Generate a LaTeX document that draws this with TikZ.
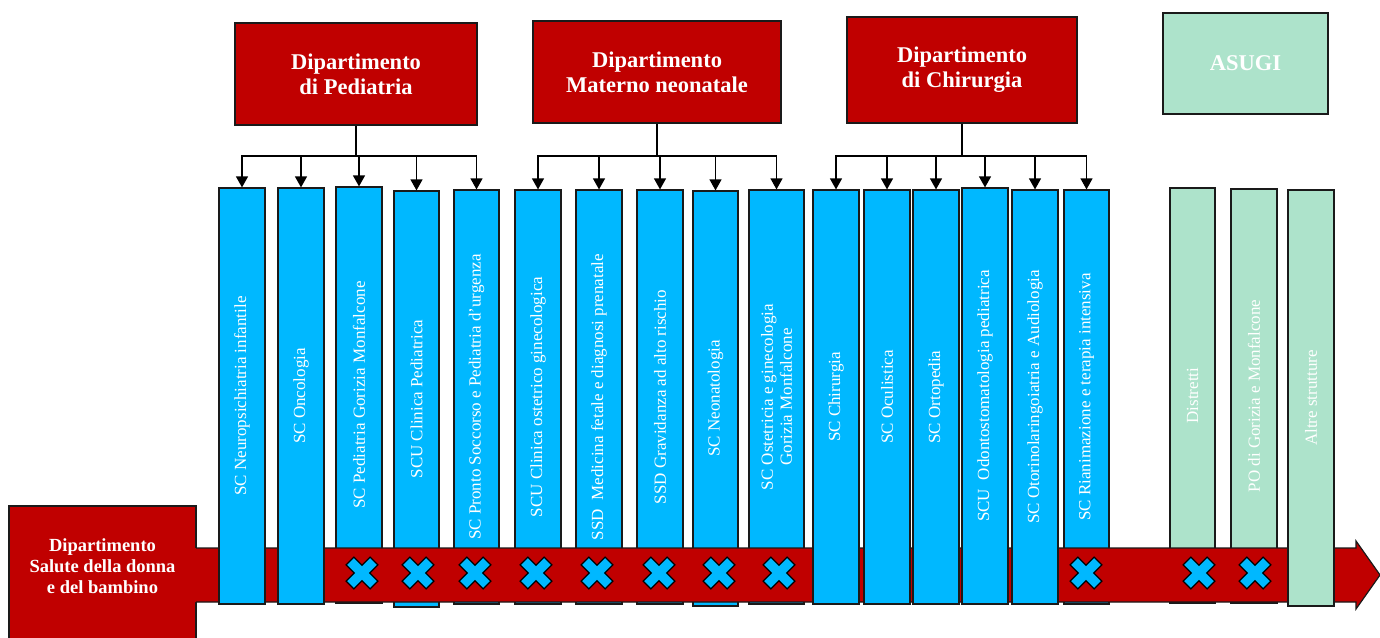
\documentclass[tikz,border=0pt]{standalone}
\usepackage{fontspec}
\setmainfont{Liberation Serif}
\usetikzlibrary{arrows.meta}
\definecolor{dred}{HTML}{C00000}
\definecolor{cblue}{HTML}{00B8FF}
\definecolor{cgreen}{HTML}{ADE3CB}
\definecolor{edge}{HTML}{1A1A1A}
\tikzset{
  dept/.style={draw=edge, line width=1.2pt, fill=dred, text=white, font=\fontsize{22.5}{25}\selectfont\bfseries, align=center, inner sep=0pt},
  colbox/.style={draw=edge, line width=1.2pt, fill=cblue, text=white, font=\fontsize{17}{19}\selectfont, rotate=90, inner sep=0pt, align=center},
  gcolbox/.style={colbox, fill=cgreen},
  arr/.style={draw=black, line width=1.2pt, -{Triangle[width=12pt,length=11pt]}},
  trunk/.style={draw=black, line width=2pt},
  xfill/.style={draw=black, line width=1.2pt, fill=cblue},
  xmark/.pic={\draw[xfill] (-5.5,17)--(5.5,17)--(5.5,5.5)--(17,5.5)--(17,-5.5)--(5.5,-5.5)--(5.5,-17)--(-5.5,-17)--(-5.5,-5.5)--(-17,-5.5)--(-17,5.5)--(-5.5,5.5)--cycle;}
}
\begin{document}
\begin{tikzpicture}[x=1pt,y=-1pt]
\useasboundingbox (0,0) rectangle (1380,637);
\clip (0,0) rectangle (1380,637);
\fill[white] (0,0) rectangle (1380,637);

% columns under the band
\node[colbox, minimum width=416pt, minimum height=46pt] (c3) at (359,395) {SC Pediatria Gorizia Monfalcone};
\node[colbox, minimum width=416pt, minimum height=45pt] (c4) at (416.5,399) {SCU Clinica Pediatrica};
\node[colbox, minimum width=414pt, minimum height=45pt] (c5) at (476.5,397) {SC Pronto Soccorso e Pediatria d’urgenza};
\node[colbox, minimum width=414pt, minimum height=46pt] (c6) at (538,397) {SCU Clinica ostetrico ginecologica};
\node[colbox, minimum width=414pt, minimum height=46pt] (c7) at (599,397) {SSD\ \ Medicina fetale e diagnosi prenatale};
\node[colbox, minimum width=414pt, minimum height=46pt] (c8) at (660,397) {SSD Gravidanza ad alto rischio};
\node[colbox, minimum width=415pt, minimum height=45pt] (c9) at (715.5,398.5) {SC Neonatologia};
\node[colbox, minimum width=414pt, minimum height=55pt] (c10) at (776.5,397) {SC Ostetricia e ginecologia\\Gorizia Monfalcone};
\node[colbox, minimum width=414pt, minimum height=45pt] (c16) at (1086.5,397) {SC Rianimazione e terapia intensiva};
\node[gcolbox, minimum width=415pt, minimum height=45pt] (g1) at (1192.5,395.5) {Distretti};
\node[gcolbox, minimum width=414pt, minimum height=46pt] (g2) at (1254,396) {PO di Gorizia e Monfalcone};

% left department box
\node[draw=edge, line width=1.2pt, fill=dred, minimum width=187pt, minimum height=144pt, inner sep=0pt] (salute) at (102.5,578) {};
\node[text=white, font=\fontsize{18.5}{21}\selectfont\bfseries, align=center, inner sep=0pt] (salutetext) at (102.5,566) {Dipartimento\\Salute della donna\\e del bambino};

% band arrow
\fill[dred] (194.5,548) -- (1356,548) -- (1356,541) -- (1380,575) -- (1356,609) -- (1356,602) -- (194.5,602) -- cycle;
\draw[edge, line width=1.2pt, line join=miter] (196,548) -- (1356,548) -- (1356,541) -- (1380,575) -- (1356,609) -- (1356,602) -- (196,602);

% crosses
\foreach \cx in {362,418,475,536,597,659,719,779,1086,1199,1255}
  \pic[rotate=45] at (\cx,573) {xmark};

% columns over the band
\node[colbox, minimum width=416pt, minimum height=46pt] (c1) at (242,396) {SC Neuropsichiatria infantile};
\node[colbox, minimum width=416pt, minimum height=46pt] (c2) at (301,396) {SC Oncologia};
\node[colbox, minimum width=414pt, minimum height=46pt] (c11) at (836,397) {SC Chirurgia};
\node[colbox, minimum width=414pt, minimum height=46pt] (c12) at (887,397) {SC Oculistica};
\node[colbox, minimum width=414pt, minimum height=46pt] (c13) at (936,397) {SC Ortopedia};
\node[colbox, minimum width=416pt, minimum height=46pt] (c14) at (985,396) {SCU\ \ Odontostomatologia pediatrica};
\node[colbox, minimum width=414pt, minimum height=46pt] (c15) at (1035,397) {SC Otorinolaringoiatria e Audiologia};
\node[gcolbox, minimum width=416pt, minimum height=46pt] (g3) at (1311,398) {Altre strutture};

% department boxes
\node[dept, minimum width=242pt, minimum height=102pt] (ped) at (356,74) {Dipartimento\\di Pediatria};
\node[dept, minimum width=248pt, minimum height=102pt] (mat) at (657,72) {Dipartimento\\Materno neonatale};
\node[dept, minimum width=230pt, minimum height=106pt] (chi) at (962,70) {Dipartimento\\di Chirurgia};
\node[dept, fill=cgreen, minimum width=165pt, minimum height=101pt] (asugi) at (1245.5,63.5) {ASUGI};

% connectors
\coordinate (pbus) at (356,156);
\coordinate (mbus) at (657,156);
\coordinate (cbus) at (962,156);
\draw[trunk] (ped) -- (pbus);
\draw[trunk] (mat) -- (mbus);
\draw[trunk] (chi) -- (cbus);
\foreach \n in {c1,c2,c3,c4,c5} \draw[arr] (pbus) -| (\n.east);
\foreach \n in {c6,c7,c8,c9,c10} \draw[arr] (mbus) -| (\n.east);
\foreach \n in {c11,c12,c13,c14,c15,c16} \draw[arr] (cbus) -| (\n.east);
\end{tikzpicture}
\end{document}
